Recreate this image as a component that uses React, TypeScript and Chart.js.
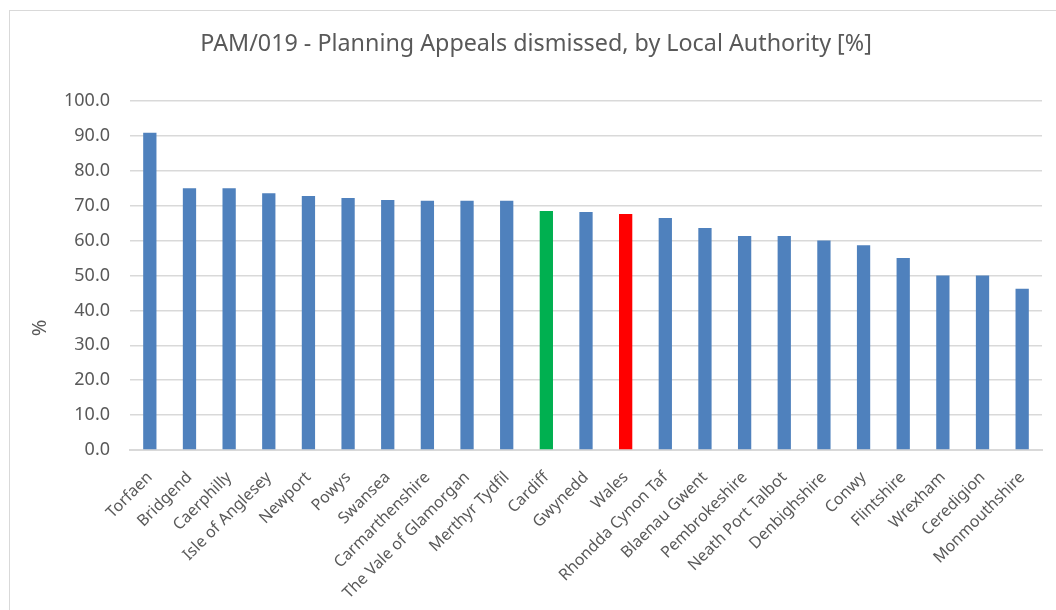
import React, { useEffect, useRef } from "react";
import { Chart, registerables } from "chart.js";

Chart.register(...registerables);

const categories = [
  "Torfaen", "Bridgend", "Caerphilly", "Isle of Anglesey", "Newport", "Powys",
  "Swansea", "Carmarthenshire", "The Vale of Glamorgan", "Merthyr Tydfil",
  "Cardiff", "Gwynedd", "Wales", "Rhondda Cynon Taf", "Blaenau Gwent",
  "Pembrokeshire", "Neath Port Talbot", "Denbighshire", "Conwy", "Flintshire",
  "Wrexham", "Ceredigion", "Monmouthshire",
];

const values = [
  90.9, 75.0, 75.0, 73.6, 72.8, 72.2,
  71.6, 71.4, 71.4, 71.4,
  68.5, 68.2, 67.6, 66.5, 63.6,
  61.3, 61.3, 60.0, 58.7, 55.0,
  50.0, 50.0, 46.2,
];

const highlight: Record<string, string> = { Cardiff: "#00B050", Wales: "#FF0000" };
const baseColor = "#4F81BD";

const titleText = "PAM/019 - Planning Appeals dismissed, by Local Authority [%]";
const yTitleText = "%";
const fontFamily = "'Noto Sans', 'DejaVu Sans', sans-serif";
const textColor = "#595959";
const gridColor = "#d9d9d9";

export default function App() {
  const ref = useRef<HTMLCanvasElement | null>(null);

  useEffect(() => {
    if (!ref.current) return;
    const textPlugin = {
      id: "texts",
      afterDraw(chart: any) {
        const ctx = chart.ctx;
        ctx.save();
        ctx.fillStyle = textColor;
        ctx.textAlign = "center";
        ctx.textBaseline = "middle";
        ctx.font = `23.3px ${fontFamily}`;
        ctx.fillText(titleText, 536, 44);
        ctx.translate(40, 328);
        ctx.rotate(-Math.PI / 2);
        ctx.font = `20px ${fontFamily}`;
        ctx.fillText(yTitleText, 0, 0);
        ctx.restore();
      },
    };
    const chart = new Chart(ref.current, {
      type: "bar",
      data: {
        labels: categories,
        datasets: [
          {
            data: values,
            backgroundColor: categories.map((c) => highlight[c] || baseColor),
            barPercentage: 1,
            categoryPercentage: 0.335,
          },
        ],
      },
      options: {
        animation: false,
        responsive: false,
        maintainAspectRatio: false,
        layout: { padding: { left: 0, right: 14, top: 101, bottom: 0 } },
        plugins: {
          legend: { display: false },
          tooltip: { enabled: false },
          title: { display: false },
        },
        scales: {
          x: {
            grid: { display: false, drawTicks: false },
            border: { display: true, color: gridColor, width: 2 },
            ticks: {
              color: textColor,
              font: { family: fontFamily, size: 16 },
              minRotation: 45,
              maxRotation: 45,
              autoSkip: false,
              padding: 18,
            },
            afterFit: (s: any) => {
              s.height = 160;
            },
          },
          y: {
            min: 0,
            max: 100,
            grid: { color: gridColor, lineWidth: 1.5, drawTicks: false },
            border: { display: false },
            ticks: {
              stepSize: 10,
              color: textColor,
              font: { family: fontFamily, size: 18 },
              padding: 20,
              callback: (v: any) => Number(v).toFixed(1),
            },
            afterFit: (s: any) => {
              s.width = 130;
            },
          },
        },
      },
      plugins: [textPlugin],
    });
    return () => chart.destroy();
  }, []);

  return (
    <div style={{ position: "fixed", left: 0, top: 0, width: 1056, height: 610, background: "#fff", overflow: "hidden" }}>
      <div
        style={{
          position: "absolute",
          left: 9,
          top: 10,
          width: 1060,
          height: 620,
          border: "1.5px solid #d9d9d9",
          boxSizing: "border-box",
        }}
      />
      <canvas ref={ref} width={1056} height={610} style={{ position: "absolute", left: 0, top: 0, display: "block" }} />
    </div>
  );
}
